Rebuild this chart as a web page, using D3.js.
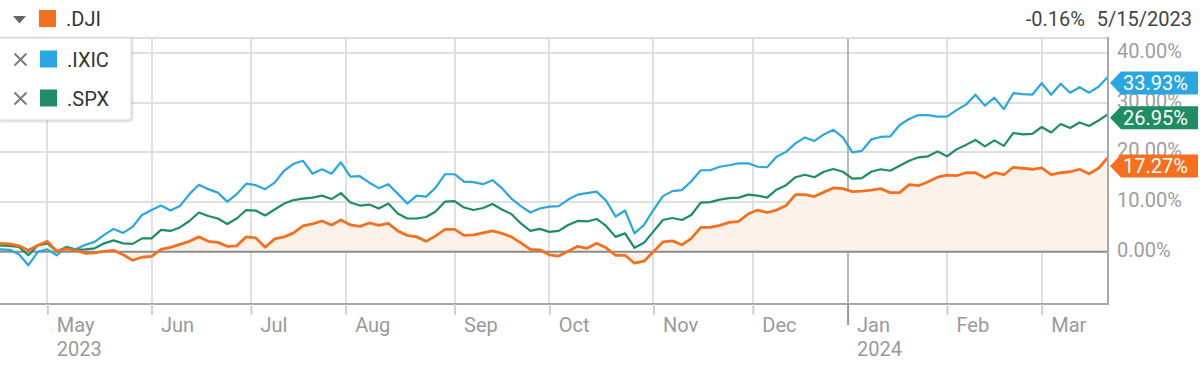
<!DOCTYPE html>
<html><head><meta charset="utf-8">
<script src="https://cdn.jsdelivr.net/npm/d3@7"></script>
<style>
body{margin:0;background:#fff;}
svg{display:block;font-family:Roboto,"Noto Sans",sans-serif;}
</style></head><body>
<svg id="c" width="1200" height="367"></svg>
<script>
// trading-session index (every 2nd session, starting mid-April 2023)
const sessionIndex = d3.range(0, 235, 2);
const dji = [1.7,1.6,1.2,0.3,1.3,2.1,0.1,0.6,0.3,-0.3,-0.2,0.1,0.3,-0.6,-1.7,-1.1,-0.9,0.5,0.9,1.5,2.1,3.0,2.1,1.9,1.1,1.2,3.0,2.8,0.9,2.6,
 3.0,3.8,5.2,5.6,6.2,5.4,6.4,5.4,5.1,5.8,5.3,5.7,4.2,3.3,3.0,2.1,3.2,4.5,4.5,3.3,3.4,3.8,4.2,3.7,3.0,1.8,0.5,0.4,-0.6,-0.85,
 0.1,1.1,0.7,1.7,0.8,-0.7,-0.7,-2.3,-1.9,0.0,2.0,2.2,1.4,2.7,4.9,4.9,5.3,5.9,6.1,7.6,8.4,7.9,8.4,9.3,11.5,11.5,11.1,12.0,12.85,
 12.7,12.1,12.2,12.4,12.7,11.9,11.9,13.5,13.3,14.1,15.0,15.4,15.3,15.9,15.9,14.9,15.9,15.5,17.0,16.8,16.6,16.9,15.5,15.9,16.1,16.6,15.7,16.8,19.0];
const ixic = [0.5,0.4,-0.5,-2.7,0.0,0.5,-0.7,1.0,0.5,1.4,2.0,3.4,4.6,3.8,5.0,7.4,8.4,9.3,8.3,9.2,11.6,13.5,12.6,11.9,10.1,11.6,13.7,13.4,12.6,13.9,
 16.3,17.7,18.3,15.7,16.6,15.7,18.0,15.1,15.2,13.9,12.8,13.6,11.7,9.7,11.3,11.1,12.9,15.6,15.6,14.1,14.0,13.6,14.4,12.8,10.7,9.2,7.9,8.7,9.1,9.2,
 10.5,11.5,11.8,12.1,10.3,7.1,8.3,3.7,5.4,8.4,11.2,12.2,12.4,14.2,16.4,16.4,17.1,17.4,17.8,17.8,17.1,17.0,19.1,20.1,21.8,23.0,22.3,23.6,24.55,
 23.0,20.0,20.3,22.6,23.1,23.2,25.5,26.7,27.5,27.5,27.2,27.2,28.5,29.6,31.6,29.4,31.0,28.7,31.9,31.7,31.6,33.9,31.6,33.8,32.0,33.1,32.0,33.2,35.2];
const spx = [1.3,1.2,1.0,-0.7,1.3,1.7,0.1,0.9,0.4,0.5,0.7,1.7,2.3,1.7,1.6,2.7,2.7,4.4,4.2,4.9,6.2,7.9,7.2,6.7,5.6,6.7,8.4,8.3,7.3,8.5,
 9.7,10.4,10.7,10.9,11.3,10.6,11.8,9.9,9.3,9.5,8.7,9.7,7.7,6.7,6.7,7.0,8.1,10.1,10.2,8.9,8.4,8.8,9.6,8.5,7.6,5.7,4.2,4.6,4.0,4.2,
 5.4,6.2,6.1,6.6,5.2,3.0,3.7,0.8,1.8,4.1,6.4,6.8,6.4,7.4,9.9,10.0,10.5,10.8,10.9,11.5,11.3,10.9,12.5,13.4,15.0,15.5,15.0,16.1,16.65,
 16.1,14.7,14.8,16.1,16.6,16.3,17.3,18.3,19.0,19.2,20.2,19.2,20.6,21.5,22.5,21.2,22.4,21.3,23.9,23.6,23.7,25.1,24.0,25.7,24.9,26.0,25.3,26.4,27.7];

const seriesNames = [".DJI", ".IXIC", ".SPX"];
const lastValues = [17.27, 33.93, 26.95];
const monthSessions = [10,32,53,73,96,116,138,159,179,200,220];
const monthLabels = ["May","Jun","Jul","Aug","Sep","Oct","Nov","Dec","Jan","Feb","Mar"];
const yearLabels = ["2023","","","","","","","","2024","",""];
const yTicks = [0,10,20,30,40];
const hoverChange = "-0.16%";
const hoverDate = "5/15/2023";

const colors = {dji:"#f37021", ixic:"#2ba6de", spx:"#1f8c64"};
const svg = d3.select("#c");
const W = 1108, plotTop = 38, plotBottom = 304;
const x = d3.scaleLinear().domain([0, 234]).range([0, W]);
const y = d3.scaleLinear().domain([-10.5, 43]).range([plotBottom, plotTop]);

// grid
svg.append("g").selectAll("line").data(yTicks.filter(d=>d!==0)).join("line")
  .attr("x1",0).attr("x2",W).attr("y1",d=>Math.round(y(d))).attr("y2",d=>Math.round(y(d)))
  .attr("stroke","#e0e0e0").attr("stroke-width",2);
svg.append("g").selectAll("line").data(monthSessions).join("line")
  .attr("x1",d=>Math.round(x(d))).attr("x2",d=>Math.round(x(d)))
  .attr("y1",plotTop).attr("y2",plotBottom)
  .attr("stroke",(d,i)=>yearLabels[i] && i>0 ? "#a0a0a0":"#e0e0e0").attr("stroke-width",(d,i)=>yearLabels[i]&&i>0?1.5:2);
svg.append("line").attr("x1",0).attr("x2",W).attr("y1",plotTop).attr("y2",plotTop).attr("stroke","#dcdcdc").attr("stroke-width",2);

// area under DJI
const pts = s => sessionIndex.map((d,i)=>[d, s[i]]);
svg.append("path").datum(pts(dji))
  .attr("d", d3.area().x(d=>x(d[0])).y0(y(0)).y1(d=>y(d[1])))
  .attr("fill","#fdf2e9");
// zero line
svg.append("line").attr("x1",0).attr("x2",W).attr("y1",y(0)).attr("y2",y(0)).attr("stroke","#8c8c8c").attr("stroke-width",2);

const line = d3.line().x(d=>x(d[0])).y(d=>y(d[1]));
[[ixic,colors.ixic,2.2],[spx,colors.spx,2.2],[dji,colors.dji,2.8]].forEach(([s,c,w])=>{
  svg.append("path").datum(pts(s)).attr("d",line).attr("fill","none")
    .attr("stroke",c).attr("stroke-width",w).attr("stroke-linejoin","round");
});

// borders
svg.append("line").attr("x1",0).attr("x2",W+1).attr("y1",plotBottom).attr("y2",plotBottom).attr("stroke","#a8a8a8").attr("stroke-width",2);
svg.append("line").attr("x1",W).attr("x2",W).attr("y1",plotTop-1).attr("y2",plotBottom).attr("stroke","#a8a8a8").attr("stroke-width",2);

// x axis
const xAxis = d3.axisBottom(x).tickValues(monthSessions).tickFormat((d,i)=>monthLabels[i]).tickSizeOuter(0);
const gx = svg.append("g").attr("transform",`translate(0,${plotBottom})`).call(xAxis);
gx.select(".domain").remove();
gx.selectAll(".tick line").attr("stroke",(d,i)=>yearLabels[i]&&i>0?"#999":"#d0d0d0")
  .attr("stroke-width",2).attr("y2",(d,i)=>yearLabels[i]&&i>0?21:11);
gx.selectAll(".tick text").attr("text-anchor","start").attr("x",9).attr("y",0).attr("dy",null)
  .attr("transform","translate(0,28)")
  .attr("fill","#9a9a9a").style("font-size","20px").style("font-family","Roboto");
gx.selectAll(".tick").append("text").text((d,i)=>yearLabels[i])
  .attr("x",9).attr("y",52).attr("fill","#9a9a9a").attr("text-anchor","start")
  .style("font-size","20px").style("font-family","Roboto");

// y axis labels
const yAxis = d3.axisRight(y).tickValues(yTicks).tickFormat(d=>d.toFixed(2)+"%").tickSize(0);
const gy = svg.append("g").attr("transform",`translate(${W+9},0)`).call(yAxis);
gy.select(".domain").remove();
gy.selectAll(".tick text").attr("x",0).attr("dy","0.22em").attr("fill","#9e9e9e")
  .style("font-size","20px").style("font-family","Roboto");

// last value tags
[[lastValues[1],colors.ixic],[lastValues[2],colors.spx],[lastValues[0],colors.dji]].forEach(([v,c])=>{
  const cy = y(v);
  svg.append("path").attr("d",`M1110,${cy} L1121,${cy-11.5} L1198,${cy-11.5} L1198,${cy+11.5} L1121,${cy+11.5} Z`).attr("fill",c);
  svg.append("text").attr("x",1123).attr("y",cy+7).text(v.toFixed(2)+"%")
    .attr("fill","#fff").style("font-size","20px");
});

// header
svg.append("path").attr("d","M13,16 L26,16 L19.5,23.5 Z").attr("fill","#666");
svg.append("rect").attr("x",39).attr("y",10).attr("width",17).attr("height",17).attr("fill",colors.dji);
svg.append("text").attr("x",66).attr("y",26).text(seriesNames[0]).attr("fill","#333").style("font-size","20px");
svg.append("text").attr("x",1192).attr("y",26).attr("text-anchor","end").text(hoverDate).attr("fill","#444").style("font-size","20px");
svg.append("text").attr("x",1085).attr("y",26).attr("text-anchor","end").text(hoverChange).attr("fill","#444").style("font-size","20px");

// legend dropdown
const defs = svg.append("defs");
const f = defs.append("filter").attr("id","sh").attr("x","-10%").attr("y","-10%").attr("width","130%").attr("height","130%");
f.append("feDropShadow").attr("dx",1).attr("dy",1).attr("stdDeviation",1.2).attr("flood-color","#000").attr("flood-opacity",0.2);
svg.append("path").attr("d","M-1,38 H131 V117 Q131,120 128,120 H-1 Z").attr("fill","#fff").attr("stroke","#d8d8d8").attr("filter","url(#sh)");
[[seriesNames[1],colors.ixic,60],[seriesNames[2],colors.spx,99]].forEach(([n,c,cy])=>{
  svg.append("path").attr("d",`M14.5,${cy-6.5} L26.5,${cy+5.5} M26.5,${cy-6.5} L14.5,${cy+5.5}`).attr("stroke","#777").attr("stroke-width",1.8);
  svg.append("rect").attr("x",40).attr("y",cy-9.5).attr("width",17).attr("height",17).attr("fill",c);
  svg.append("text").attr("x",67).attr("y",cy+7).text(n).attr("fill","#333").style("font-size","20px");
});
</script></body></html>
